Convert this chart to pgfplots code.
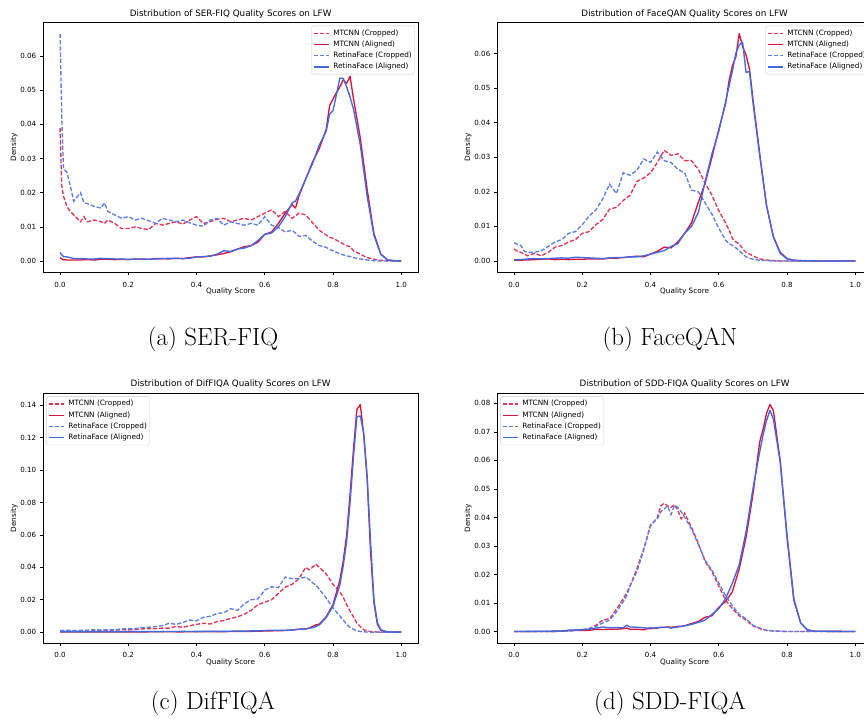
\documentclass[border=0pt]{standalone}
\usepackage{fontspec}
\usepackage{pgfplots}
\usepackage{pgfplotstable}
\pgfplotsset{compat=1.18}
\newfontfamily\dejavu{DejaVu Sans}
\definecolor{crimson}{HTML}{DC143C}
\definecolor{royal}{HTML}{4169E1}
\colorlet{crimsonl}{crimson!85!white}
\colorlet{royall}{royal!85!white}

\pgfplotstableread{
x mc ma rc ra
0.000 0.0390 0.0010 0.0665 0.0025
0.005 0.0220 0.0006 0.0420 0.0018
0.010 0.0190 0.0004 0.0270 0.0013
0.020 0.0160 0.0003 0.0260 0.0012
0.030 0.0145 0.0003 0.0220 0.0010
0.040 0.0135 0.0003 0.0175 0.0007
0.060 0.0115 0.0003 0.0200 0.0007
0.070 0.0130 0.0004 0.0170 0.0007
0.080 0.0115 0.0004 0.0168 0.0006
0.100 0.0120 0.0003 0.0160 0.0006
0.120 0.0115 0.0005 0.0155 0.0008
0.130 0.0110 0.0005 0.0170 0.0007
0.140 0.0120 0.0005 0.0145 0.0007
0.160 0.0110 0.0004 0.0135 0.0006
0.180 0.0095 0.0005 0.0125 0.0006
0.200 0.0095 0.0004 0.0130 0.0005
0.220 0.0100 0.0006 0.0120 0.0005
0.240 0.0095 0.0005 0.0125 0.0006
0.260 0.0092 0.0005 0.0118 0.0005
0.280 0.0110 0.0007 0.0110 0.0006
0.300 0.0105 0.0007 0.0125 0.0007
0.320 0.0110 0.0006 0.0120 0.0008
0.340 0.0115 0.0008 0.0115 0.0008
0.360 0.0108 0.0007 0.0120 0.0007
0.380 0.0120 0.0010 0.0112 0.0008
0.400 0.0130 0.0012 0.0105 0.0012
0.420 0.0110 0.0012 0.0102 0.0013
0.440 0.0115 0.0015 0.0120 0.0014
0.460 0.0122 0.0018 0.0125 0.0020
0.480 0.0125 0.0022 0.0105 0.0030
0.500 0.0115 0.0027 0.0115 0.0028
0.520 0.0120 0.0035 0.0110 0.0035
0.540 0.0125 0.0042 0.0105 0.0038
0.560 0.0120 0.0045 0.0110 0.0045
0.580 0.0130 0.0055 0.0105 0.0060
0.600 0.0140 0.0078 0.0130 0.0078
0.620 0.0150 0.0085 0.0105 0.0082
0.640 0.0130 0.0110 0.0098 0.0100
0.660 0.0145 0.0140 0.0085 0.0130
0.680 0.0125 0.0165 0.0090 0.0170
0.690 0.0132 0.0155 0.0082 0.0175
0.700 0.0140 0.0190 0.0072 0.0195
0.720 0.0135 0.0240 0.0075 0.0240
0.740 0.0112 0.0290 0.0058 0.0285
0.760 0.0090 0.0330 0.0045 0.0340
0.780 0.0076 0.0385 0.0040 0.0380
0.790 0.0070 0.0455 0.0034 0.0430
0.800 0.0066 0.0475 0.0030 0.0440
0.820 0.0056 0.0510 0.0021 0.0535
0.830 0.0050 0.0530 0.0018 0.0535
0.840 0.0045 0.0520 0.0015 0.0510
0.850 0.0042 0.0541 0.0013 0.0480
0.860 0.0030 0.0475 0.0010 0.0445
0.880 0.0020 0.0360 0.0006 0.0340
0.900 0.0010 0.0210 0.0003 0.0190
0.920 0.0005 0.0080 0.0001 0.0075
0.940 0.0002 0.0020 0.0000 0.0020
0.960 0.0001 0.0003 0.0000 0.0003
0.980 0.0000 0.0001 0.0000 0.0001
1.000 0.0000 0.0000 0.0000 0.0000
}\serfiq

\pgfplotstableread{
x mc ma rc ra
0.00 0.0035 0.0002 0.0053 0.0003
0.01 0.0028 0.0002 0.0048 0.0004
0.02 0.0025 0.0002 0.0045 0.0004
0.03 0.0020 0.0003 0.0028 0.0005
0.04 0.0015 0.0003 0.0025 0.0006
0.06 0.0022 0.0004 0.0025 0.0007
0.08 0.0015 0.0005 0.0030 0.0006
0.10 0.0025 0.0006 0.0042 0.0007
0.12 0.0040 0.0004 0.0055 0.0008
0.14 0.0045 0.0005 0.0062 0.0009
0.16 0.0055 0.0004 0.0080 0.0008
0.18 0.0062 0.0005 0.0085 0.0011
0.20 0.0080 0.0005 0.0105 0.0010
0.22 0.0085 0.0006 0.0130 0.0009
0.24 0.0105 0.0006 0.0148 0.0008
0.26 0.0120 0.0006 0.0180 0.0007
0.28 0.0150 0.0008 0.0222 0.0009
0.30 0.0155 0.0008 0.0195 0.0010
0.32 0.0175 0.0010 0.0255 0.0010
0.34 0.0190 0.0012 0.0248 0.0012
0.36 0.0230 0.0014 0.0262 0.0012
0.38 0.0240 0.0012 0.0295 0.0015
0.40 0.0255 0.0020 0.0285 0.0020
0.42 0.0285 0.0028 0.0315 0.0025
0.44 0.0320 0.0040 0.0290 0.0030
0.46 0.0305 0.0038 0.0285 0.0042
0.48 0.0310 0.0055 0.0265 0.0050
0.50 0.0290 0.0080 0.0255 0.0080
0.52 0.0290 0.0110 0.0205 0.0100
0.54 0.0265 0.0170 0.0200 0.0140
0.56 0.0225 0.0225 0.0168 0.0230
0.58 0.0190 0.0300 0.0135 0.0310
0.60 0.0145 0.0380 0.0095 0.0375
0.62 0.0110 0.0455 0.0060 0.0460
0.63 0.0090 0.0520 0.0050 0.0505
0.64 0.0065 0.0565 0.0045 0.0550
0.65 0.0055 0.0590 0.0038 0.0600
0.66 0.0050 0.0657 0.0030 0.0625
0.67 0.0035 0.0620 0.0020 0.0632
0.68 0.0025 0.0595 0.0012 0.0545
0.69 0.0020 0.0555 0.0008 0.0548
0.70 0.0015 0.0470 0.0005 0.0460
0.72 0.0006 0.0310 0.0002 0.0305
0.74 0.0003 0.0160 0.0001 0.0160
0.76 0.0001 0.0070 0.0000 0.0070
0.78 0.0000 0.0025 0.0000 0.0022
0.80 0.0000 0.0007 0.0000 0.0006
0.82 0.0000 0.0002 0.0000 0.0002
0.84 0.0000 0.0001 0.0000 0.0001
0.90 0.0000 0.0000 0.0000 0.0000
1.00 0.0000 0.0000 0.0000 0.0000
}\faceqan

\pgfplotstableread{
x mc ma rc ra
0.00 0.0005 0.0002 0.0010 0.0003
0.02 0.0006 0.0002 0.0012 0.0003
0.04 0.0008 0.0002 0.0010 0.0003
0.06 0.0008 0.0002 0.0012 0.0003
0.08 0.0010 0.0002 0.0012 0.0002
0.10 0.0010 0.0002 0.0015 0.0003
0.12 0.0010 0.0002 0.0013 0.0003
0.14 0.0012 0.0002 0.0015 0.0003
0.16 0.0012 0.0002 0.0015 0.0003
0.18 0.0015 0.0002 0.0020 0.0003
0.20 0.0014 0.0002 0.0022 0.0003
0.22 0.0016 0.0002 0.0022 0.0004
0.24 0.0020 0.0002 0.0028 0.0003
0.26 0.0022 0.0002 0.0030 0.0004
0.28 0.0022 0.0003 0.0035 0.0003
0.30 0.0025 0.0002 0.0040 0.0004
0.32 0.0025 0.0003 0.0055 0.0004
0.34 0.0035 0.0002 0.0048 0.0004
0.36 0.0030 0.0002 0.0060 0.0005
0.38 0.0040 0.0003 0.0075 0.0004
0.40 0.0048 0.0002 0.0070 0.0005
0.42 0.0055 0.0003 0.0092 0.0005
0.44 0.0050 0.0003 0.0098 0.0006
0.46 0.0065 0.0003 0.0115 0.0005
0.48 0.0072 0.0003 0.0120 0.0005
0.50 0.0085 0.0004 0.0145 0.0006
0.52 0.0095 0.0004 0.0135 0.0007
0.54 0.0110 0.0005 0.0175 0.0006
0.56 0.0135 0.0005 0.0200 0.0008
0.58 0.0170 0.0006 0.0205 0.0008
0.60 0.0185 0.0007 0.0260 0.0010
0.62 0.0200 0.0008 0.0280 0.0012
0.64 0.0240 0.0009 0.0275 0.0011
0.66 0.0278 0.0010 0.0340 0.0012
0.68 0.0295 0.0013 0.0330 0.0013
0.70 0.0330 0.0018 0.0330 0.0018
0.72 0.0400 0.0020 0.0340 0.0020
0.73 0.0385 0.0025 0.0325 0.0024
0.74 0.0400 0.0035 0.0305 0.0028
0.75 0.0420 0.0045 0.0290 0.0035
0.76 0.0400 0.0050 0.0265 0.0045
0.78 0.0360 0.0095 0.0210 0.0090
0.80 0.0295 0.0170 0.0150 0.0160
0.82 0.0250 0.0320 0.0100 0.0290
0.83 0.0215 0.0440 0.0075 0.0410
0.84 0.0170 0.0600 0.0048 0.0560
0.85 0.0130 0.0850 0.0030 0.0800
0.86 0.0095 0.1130 0.0018 0.1080
0.87 0.0055 0.1375 0.0008 0.1330
0.88 0.0035 0.1405 0.0004 0.1335
0.89 0.0015 0.1220 0.0002 0.1230
0.90 0.0008 0.0950 0.0001 0.0960
0.91 0.0004 0.0500 0.0000 0.0560
0.92 0.0002 0.0180 0.0000 0.0200
0.93 0.0001 0.0050 0.0000 0.0060
0.94 0.0000 0.0012 0.0000 0.0015
0.96 0.0000 0.0001 0.0000 0.0001
1.00 0.0000 0.0000 0.0000 0.0000
}\diffiqa

\pgfplotstableread{
x mc ma rc ra
0.00 0.0000 0.0000 0.0000 0.0000
0.10 0.0000 0.0000 0.0000 0.0001
0.14 0.0001 0.0001 0.0001 0.0002
0.16 0.0002 0.0003 0.0002 0.0005
0.18 0.0004 0.0004 0.0004 0.0005
0.20 0.0006 0.0004 0.0006 0.0007
0.22 0.0010 0.0004 0.0010 0.0008
0.24 0.0022 0.0008 0.0018 0.0012
0.26 0.0040 0.0007 0.0030 0.0016
0.28 0.0045 0.0008 0.0040 0.0013
0.30 0.0078 0.0008 0.0068 0.0014
0.32 0.0115 0.0010 0.0105 0.0013
0.33 0.0135 0.0012 0.0125 0.0022
0.34 0.0160 0.0008 0.0160 0.0016
0.36 0.0220 0.0008 0.0210 0.0015
0.38 0.0290 0.0006 0.0285 0.0013
0.39 0.0330 0.0010 0.0330 0.0012
0.40 0.0375 0.0010 0.0370 0.0013
0.41 0.0385 0.0011 0.0385 0.0012
0.42 0.0400 0.0012 0.0395 0.0014
0.43 0.0440 0.0014 0.0420 0.0015
0.44 0.0450 0.0015 0.0430 0.0014
0.45 0.0440 0.0016 0.0440 0.0015
0.46 0.0435 0.0015 0.0410 0.0012
0.47 0.0445 0.0016 0.0442 0.0014
0.48 0.0425 0.0018 0.0435 0.0016
0.49 0.0395 0.0018 0.0420 0.0018
0.50 0.0415 0.0020 0.0400 0.0020
0.52 0.0365 0.0028 0.0360 0.0025
0.54 0.0310 0.0035 0.0305 0.0032
0.56 0.0245 0.0050 0.0250 0.0040
0.58 0.0210 0.0055 0.0215 0.0060
0.60 0.0160 0.0085 0.0170 0.0080
0.62 0.0110 0.0105 0.0125 0.0115
0.64 0.0080 0.0140 0.0090 0.0170
0.66 0.0055 0.0220 0.0060 0.0235
0.68 0.0040 0.0330 0.0045 0.0350
0.70 0.0020 0.0480 0.0022 0.0500
0.72 0.0010 0.0665 0.0012 0.0630
0.73 0.0006 0.0710 0.0008 0.0690
0.74 0.0004 0.0765 0.0004 0.0740
0.75 0.0003 0.0796 0.0003 0.0775
0.76 0.0002 0.0775 0.0002 0.0745
0.78 0.0001 0.0600 0.0001 0.0595
0.80 0.0000 0.0330 0.0000 0.0340
0.82 0.0000 0.0110 0.0000 0.0115
0.84 0.0000 0.0030 0.0000 0.0030
0.86 0.0000 0.0005 0.0000 0.0006
0.88 0.0000 0.0001 0.0000 0.0001
1.00 0.0000 0.0000 0.0000 0.0000
}\sddfiqa

\pgfplotsset{
  fiq/.style={
    scale only axis, width=375.3pt, height=250.4pt,
    xmin=-0.05, xmax=1.05,
    xtick={0,0.2,0.4,0.6,0.8,1},
    xticklabels={0.0,0.2,0.4,0.6,0.8,1.0},
    scaled y ticks=false,
    y tick label style={/pgf/number format/.cd, fixed, fixed zerofill, precision=2, /tikz/.cd},
    /pgf/number format/assume math mode=true,
    tick align=outside, tick pos=left,
    major tick length=2.6pt,
    axis line style={line width=0.6pt},
    every tick/.style={black, line width=0.6pt},
    tick label style={font=\dejavu\fontsize{7.1}{8}\selectfont},
    xticklabel style={yshift=-3pt},
    yticklabel style={xshift=-0.6pt},
    xlabel={Quality Score}, ylabel={Density},
    label style={font=\dejavu\fontsize{7.3}{8}\selectfont},
    xlabel style={at={(axis description cs:0.5,-0.076)}, anchor=center},
    ylabel style={at={(axis description cs:-0.077,0.5)}, anchor=center},
    every axis title shift=0pt,
    title style={font=\dejavu\fontsize{8.8}{10}\selectfont, at={(axis description cs:0.5,1.025)}, anchor=base},
    legend cell align=left,
    legend style={font=\dejavu\fontsize{7.3}{8}\selectfont, draw=black!20, rounded corners=1.5pt,
      fill=white, inner xsep=1.5pt, inner ysep=2.5pt,
      row sep=1.5pt, column sep=2.5pt,
      nodes={inner sep=1.4pt, text height=5.4pt, text depth=1.5pt}},
    legend image code/.code={\draw[mark repeat=2,mark phase=2,#1] plot coordinates {(0pt,0pt) (7.5pt,0pt) (15pt,0pt)};},
    legend ne/.style={legend style={at={(1,1)}, anchor=north east, xshift=-3.4pt, yshift=-3.4pt}},
    legend nw/.style={legend style={at={(0,1)}, anchor=north west, xshift=3.4pt, yshift=-3.4pt}},
  },
}

\begin{document}
\begin{tikzpicture}
\path[use as bounding box] (0pt,0pt) rectangle (864pt,719pt);

% (a) SER-FIQ
\begin{axis}[fiq, legend ne, at={(43pt,446.3pt)}, anchor=south west,
  ymin=-0.00342, ymax=0.0699, ytick={0,0.01,0.02,0.03,0.04,0.05,0.06},
  title={Distribution of SER-FIQ Quality Scores on LFW}]
\addplot[draw=crimsonl, line width=1.35pt, dash pattern=on 4.3pt off 1.9pt] table[x=x,y=mc] {\serfiq}; \addlegendentry{MTCNN (Cropped)}
\addplot[draw=crimson, line width=1.35pt, line join=round] table[x=x,y=ma] {\serfiq}; \addlegendentry{MTCNN (Aligned)}
\addplot[draw=royall, line width=1.35pt, dash pattern=on 4.3pt off 1.9pt] table[x=x,y=rc] {\serfiq}; \addlegendentry{RetinaFace (Cropped)}
\addplot[draw=royal, line width=1.35pt, line join=round] table[x=x,y=ra] {\serfiq}; \addlegendentry{RetinaFace (Aligned)}
\end{axis}

% (b) FaceQAN
\begin{axis}[fiq, legend ne, at={(497pt,446.3pt)}, anchor=south west,
  ymin=-0.00338, ymax=0.0690, ytick={0,0.01,0.02,0.03,0.04,0.05,0.06},
  title={Distribution of FaceQAN Quality Scores on LFW}]
\addplot[draw=crimsonl, line width=1.35pt, dash pattern=on 4.3pt off 1.9pt] table[x=x,y=mc] {\faceqan}; \addlegendentry{MTCNN (Cropped)}
\addplot[draw=crimson, line width=1.35pt, line join=round] table[x=x,y=ma] {\faceqan}; \addlegendentry{MTCNN (Aligned)}
\addplot[draw=royall, line width=1.35pt, dash pattern=on 4.3pt off 1.9pt] table[x=x,y=rc] {\faceqan}; \addlegendentry{RetinaFace (Cropped)}
\addplot[draw=royal, line width=1.35pt, line join=round] table[x=x,y=ra] {\faceqan}; \addlegendentry{RetinaFace (Aligned)}
\end{axis}

% (c) DifFIQA
\begin{axis}[fiq, legend nw, at={(43pt,75.5pt)}, anchor=south west,
  ymin=-0.0070, ymax=0.1476, ytick={0,0.02,0.04,0.06,0.08,0.10,0.12,0.14},
  title={Distribution of DifFIQA Quality Scores on LFW}]
\addplot[draw=crimsonl, line width=1.35pt, dash pattern=on 4.3pt off 1.9pt] table[x=x,y=mc] {\diffiqa}; \addlegendentry{MTCNN (Cropped)}
\addplot[draw=crimson, line width=1.35pt, line join=round] table[x=x,y=ma] {\diffiqa}; \addlegendentry{MTCNN (Aligned)}
\addplot[draw=royall, line width=1.35pt, dash pattern=on 4.3pt off 1.9pt] table[x=x,y=rc] {\diffiqa}; \addlegendentry{RetinaFace (Cropped)}
\addplot[draw=royal, line width=1.35pt, line join=round] table[x=x,y=ra] {\diffiqa}; \addlegendentry{RetinaFace (Aligned)}
\end{axis}

% (d) SDD-FIQA
\begin{axis}[fiq, legend nw, at={(497pt,75.5pt)}, anchor=south west,
  ymin=-0.0042, ymax=0.0836, ytick={0,0.01,0.02,0.03,0.04,0.05,0.06,0.07,0.08},
  title={Distribution of SDD-FIQA Quality Scores on LFW}]
\addplot[draw=crimsonl, line width=1.35pt, dash pattern=on 4.3pt off 1.9pt] table[x=x,y=mc] {\sddfiqa}; \addlegendentry{MTCNN (Cropped)}
\addplot[draw=crimson, line width=1.35pt, line join=round] table[x=x,y=ma] {\sddfiqa}; \addlegendentry{MTCNN (Aligned)}
\addplot[draw=royall, line width=1.35pt, dash pattern=on 4.3pt off 1.9pt] table[x=x,y=rc] {\sddfiqa}; \addlegendentry{RetinaFace (Cropped)}
\addplot[draw=royal, line width=1.35pt, line join=round] table[x=x,y=ra] {\sddfiqa}; \addlegendentry{RetinaFace (Aligned)}
\end{axis}

\node[anchor=base, font=\Huge] at (213pt,373.3pt) {(a) SER-FIQ};
\node[anchor=base, font=\Huge] at (670pt,373.3pt) {(b) FaceQAN};
\node[anchor=base, font=\Huge] at (213pt,9.4pt) {(c) DifFIQA};
\node[anchor=base, font=\Huge] at (670pt,9.4pt) {(d) SDD-FIQA};
\end{tikzpicture}
\end{document}
